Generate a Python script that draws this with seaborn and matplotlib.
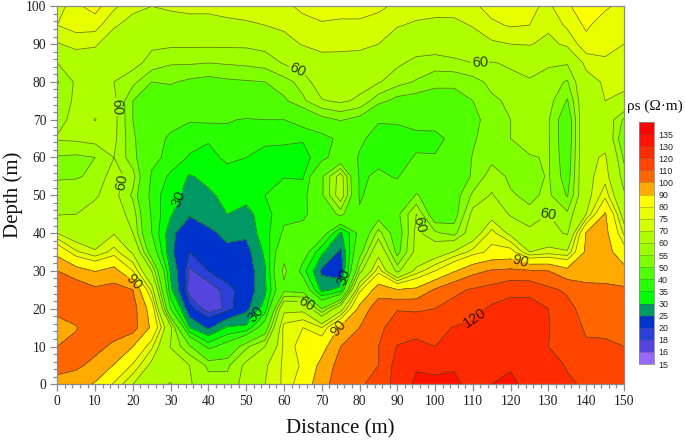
import numpy as np
import pandas as pd
import matplotlib
matplotlib.use("Agg")
import matplotlib.pyplot as plt
import seaborn as sns

distance = list(range(0, 155, 5))
depth = list(range(100, -5, -5))

z100 = [72,79,82,76,72,70,71,72,72,73,73,73,74,76,77,77,77,76,74,73,73,73,74,77,78,76,74,79,84,81,78]
z95 = [75,77,77,71,67,66,67,67,67,68,69,70,71.5,73.5,74.5,74,74,73,70.5,69,68,68,70.5,74,75.5,75,71.5,76,81,77,76]
z90 = [69.5,72,71,65,62,61,61,61,61,61,61,62,67,70.5,73,72,72,70,66,63,62.5,64,66,69,70,70.5,68,71.5,78,77,75]
z85 = [60,65,65,64,62,58,55.5,55.5,55,55.5,56,57,60.5,63,66,67,66,63.5,61,58.5,58,58.5,60,59.5,61,62,61,60.5,72,74,73]
z80 = [54.5,61,62,60,56.5,50,50.5,49,48,49,49.5,50,53,57,64,63,62,60.5,57,54.5,51,51,53,56.5,58,59.5,57,54.5,67,71,72]
z75 = [57,61,63,61.5,50,47,47,46.5,48,49.5,47.5,48,49,54,59.5,61,59,52,48,47,48,48,50,54,56,58.5,57,49.5,67,70,68]
z70 = [58,62,70.5,62,50,46,43,40.5,41,40.5,39.5,40,40,43,48,50.5,48,40.5,41,42,43,45,48,53,55,57,55.5,45,68,65,54]
z65 = [60.5,61,62,61.5,51,44,38.5,37,35.5,38,36,36,36,35.5,37,42,41,38,37,38.5,38,42,49,54,55,57.5,55.5,45,68,67,50]
z60 = [54.5,54,55,60,52,42,38,34.5,33.5,36,35,33.5,33,33,38,44,39.5,38.5,38,40.5,40.5,43,50.5,53.5,53.5,54.5,55.5,46,68,71,54]
z55 = [54.5,54.5,56,63,57,39,34,29.5,31.5,33,33.5,34.5,34.8,34.5,49,63,39,41,39.5,45,43,44,51,57.5,54,53,55.5,47,68,73,57]
z50 = [57,58,59.5,62,54,37.5,32,28,29,31.5,32,35,37,37.5,49,64,39.5,42,43,50.5,47,47,56,60.5,55.5,54,56,49.5,67,78,61]
z45 = [59.5,60,61.5,63,58,39,30.5,25.5,27,30,28,33,38.5,39,43,52,40.5,47,48.5,60,45,47,62,67,59,56,60,56,70,91,66]
z40 = [70,64.5,63,69.5,60,40,26.5,21,24,26,26,33,41,42,44,29,42,57,46,61.5,56,53,65,77,68,62,63,59,90.5,93,74]
z35 = [87,76,71,77,69,45,26,20,23,24,23,31,47,44,31,24,47,67,48,62,65,70.5,77,82,83,70,72.5,71,92,94,84]
z30 = [100,94,89.5,93.5,80,60,29,17.5,20,21.8,21.5,29.5,52,37,24,20,57,78,58,72,80,89,97,101,102,101,100,93,95,96,93]
z25 = [105,107,102,103.5,100,73,31,16.5,16.5,19,21.5,29,48,47,28,32,78,95,90.5,92,101,108,111,113.5,118,118,112,108.5,103,102,101.5]
z20 = [102,104,107,108,104,85,40,21,16.5,18.5,23.5,32,68,68,50,66,93,106,109.5,108.5,110,113,116,122,123,123,120,113,106,102,102]
z15 = [97,99.5,106,105,104,88,62,30,24,30.5,31,45,77,80,75,92,100,108,114,117,117,120.5,122.5,124,124,125,120.5,114,109,108,106]
z10 = [100,102,103,98,90,76,59.5,51,38,43,54,60,76,83,86,100,107,110,120.5,122,120,123,126,127,128,126,120,116,111,111.5,110]
z5 = [103,102,97,89.5,79,68,66,60,54,54,61.5,69,76,81,93,104,108,110,124,129,129.5,129,126,128,129,126,125,119,115,115,112]
z0 = [97,94,89,79,70,67,70.5,60.5,57,57,62,70,76,84,96,106,108,115,123,132,130.5,132,127,130,132,127,125,122,118,116,114]

levels = [15,16,18,20,25,30,35,40,50,55,60,70,75,80,90,100,110,120,130,135,140]
band_colors = ["#9966FF","#5544DD","#2A40D8","#0033CC","#009966","#00FF00","#28FF00","#50FF00",
               "#80FF00","#9DFF00","#B0FF00","#D4FF00","#E8FF00","#FFFF00","#FFAA00","#FF6600",
               "#FF4400","#FF2A00","#FF1100","#FF0000"]
label_levels = [30, 60, 90, 120]
label_points = [(63,81.8),(15.8,73.4),(18.2,53.2),(111.9,83.7),(97.2,42.6),(65.6,21),(129.9,45.2),
                (31,49.6),(52.8,18.3),(75.5,28.4),(20.5,27.3),(122.7,32.6),(74,15.2),(110.5,17.5)]

rows = [z100,z95,z90,z85,z80,z75,z70,z65,z60,z55,z50,z45,z40,z35,z30,z25,z20,z15,z10,z5,z0]
table = pd.DataFrame(rows, index=depth, columns=distance)

sns.set_theme(style="ticks")
plt.rcParams["font.family"] = ["Liberation Serif", "DejaVu Serif"]

W, H = 685, 440
fig = plt.figure(figsize=(W/100, H/100), dpi=100, facecolor="white")
ax = fig.add_axes([57.3/W, 1-384.3/H, (624-57.3)/W, (384.3-6.3)/H])

cf = ax.contourf(table.columns, table.index, table.values, levels=levels, colors=band_colors)
line_style = dict(colors="#3a4a20", linewidths=0.55, alpha=0.75)
plain_levels = [v for v in levels if v not in label_levels]
ax.contour(table.columns, table.index, table.values, levels=plain_levels, **line_style)
cl = ax.contour(table.columns, table.index, table.values, levels=label_levels, **line_style)
txt = ax.clabel(cl, manual=label_points, fmt="%d", inline=True,
                inline_spacing=2, fontsize=10.5, colors="black")
for t in txt:
    t.set_family("Liberation Sans")

ax.set_xlim(0, 150)
ax.set_ylim(0, 100)
ax.set_xticks(range(0, 151, 10))
ax.set_yticks(range(0, 101, 10))
ax.set_xticks(range(0, 151, 2), minor=True)
ax.set_yticks(range(0, 101, 2), minor=True)
ax.tick_params(which="major", length=5, width=0.9, color="#8a8a8a", labelsize=9.8, labelcolor="#222222", pad=3)
ax.tick_params(which="minor", length=2.8, width=0.9, color="#8a8a8a")
for s in ax.spines.values():
    s.set_color("#8a8a8a")
    s.set_linewidth(0.9)
ax.set_xlabel("Distance (m)", fontsize=15, color="#111111", labelpad=8)
ax.set_ylabel("Depth (m)", fontsize=15, color="#111111", labelpad=2)

cax = fig.add_axes([638.7/W, 1-364/H, (654-638.7)/W, (364-122)/H])
cb = fig.colorbar(cf, cax=cax, spacing="uniform", ticks=levels[:-1], drawedges=True)
cb.ax.tick_params(length=0, labelsize=6.4, pad=3, labelcolor="#222222")
for t in cb.ax.get_yticklabels():
    t.set_family("Liberation Sans")
cb.outline.set_edgecolor("#8a8a8a")
cb.outline.set_linewidth(0.6)
cb.dividers.set_color("#555555")
cb.dividers.set_linewidth(0.4)
cb.dividers.set_alpha(0.6)
fig.text(654.5/W, 1-106/H, "\u03c1s (\u03a9\u00b7m)", fontsize=11, ha="center", va="center", color="#111111")

fig.savefig("out.png", dpi=100)
